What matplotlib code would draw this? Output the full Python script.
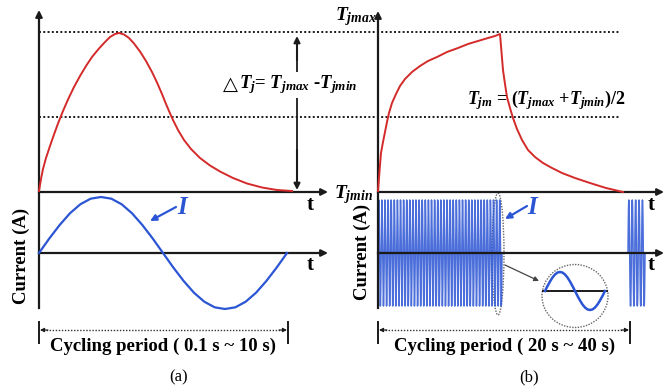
"""
Schematic of junction temperature swing vs load current:
(a) low-frequency current cycling, (b) high-frequency current bursts.
Drawn on a single pixel-scaled canvas (x: 0..671, y: 0..387 downward).
"""
import matplotlib

matplotlib.use("Agg")
import matplotlib.pyplot as plt  # noqa: E402
import numpy as np  # noqa: E402
from matplotlib.patches import Ellipse  # noqa: E402

plt.rcParams["font.family"] = ["Liberation Serif", "DejaVu Serif"]
plt.rcParams["font.weight"] = "bold"
plt.rcParams["mathtext.fontset"] = "custom"
plt.rcParams["mathtext.rm"] = "Liberation Serif:bold"
plt.rcParams["mathtext.it"] = "Liberation Serif:italic:bold"
plt.rcParams["mathtext.bf"] = "Liberation Serif:bold"

# --- data (canvas pixels) ---
# junction temperature, panel (a)
temp_a_x = [39, 41, 43, 46, 50, 54, 58, 63, 68, 74, 80, 86, 92, 99, 105, 110,
            115, 119, 124, 129, 134, 140, 146, 152, 157, 162, 166, 169, 173,
            178, 184, 191, 200, 210, 220, 233, 247, 262, 277, 292]
temp_a_y = [191, 179, 169, 158, 146, 134.5, 123.5, 111, 99.5, 87, 76, 66, 57,
            48.5, 42, 37, 34, 33, 34.5, 38, 43.5, 51.5, 61, 72, 82.5, 94, 104,
            111, 120, 130, 140, 149, 158, 165.5, 171.5, 178, 183.5, 187.5, 190, 191]
# junction temperature, panel (b)
temp_b_x = [378, 379, 380, 381, 383, 385, 387, 389, 392, 396, 400, 405, 412,
            420, 428, 437, 447, 458, 468, 478, 488, 495, 500,
            500.5, 501, 502, 503, 505, 507, 510, 513, 517, 522, 528, 535, 543,
            552, 562, 575, 590, 606, 623]
temp_b_y = [191, 178, 165, 153, 142, 132, 122, 113, 103, 94, 86, 79, 72,
            66, 61, 57, 52, 48, 44, 41, 38, 36, 34,
            40, 46, 58, 70, 84, 97, 108, 118, 129, 140, 150, 157, 163,
            168, 173, 178, 183, 188, 192]

# one current cycle, sampled every 15 degrees (normalised amplitude)
unit_cycle = [0.0, 0.26, 0.5, 0.71, 0.87, 0.97, 1.0, 0.97, 0.87, 0.71, 0.5, 0.26,
              0.0, -0.26, -0.5, -0.71, -0.87, -0.97, -1.0, -0.97, -0.87, -0.71, -0.5, -0.26, 0.0]

# current, panel (a): one slow cycle
cur_a_start, cur_a_end, cur_a_amp, cur_zero = 39, 287, 56, 253
# current, panel (b): fast bursts (start, end, number of cycles)
bursts_b = [(378, 502, 40), (628, 645, 5)]
cur_b_amp = 53
# zoomed single cycle inside the magnifier
zoom_start, zoom_end, zoom_amp, zoom_zero = 545, 605, 19, 291

t_max_y, t_mid_y, t_min_y = 32, 117, 192

AX = "#1a1a1a"
RED = "#d42a2a"
BLUE = "#2b55d4"


def cycle_xy(x0, x1, n_cycles, amp, y0):
    shape = np.asarray(unit_cycle)
    seg = np.concatenate([shape[:-1]] * n_cycles + [shape[-1:]])
    xs = np.linspace(x0, x1, len(seg))
    return xs, y0 - amp * seg


def arrow(ax, x0, y0, x1, y1, color=AX, lw=1.5, scale=10, style="-|>"):
    ax.annotate("", xy=(x1, y1), xytext=(x0, y0),
                arrowprops=dict(arrowstyle=style, color=color, lw=lw,
                                mutation_scale=scale, shrinkA=0, shrinkB=0))


def bracket(ax, x0, x1, label, xc):
    for x in (x0, x1):
        ax.plot([x, x], [322, 343], color=AX, lw=1.4)
    ax.plot([x0 + 4, x1 - 4], [330, 330], color="#333", lw=1.0, ls=(0, (1, 1.2)))
    arrow(ax, x0 + 9, 330, x0 + 1, 330, lw=0.8, scale=6)
    arrow(ax, x1 - 9, 330, x1 - 1, 330, lw=0.8, scale=6)
    ax.text(xc, 346, label, fontsize=13.5, ha="center", va="center")


fig = plt.figure(figsize=(6.71, 3.87), dpi=100)
ax = fig.add_axes([0, 0, 1, 1])
ax.set_xlim(0, 671)
ax.set_ylim(387, 0)
ax.axis("off")

# dotted reference levels
for y in (t_max_y, t_mid_y):
    ax.plot([39, 620], [y, y], color=AX, lw=1.4, ls=(0, (1, 1.2)))

# ---- panel (a) ----
ax.plot([39, 39], [308, 14], color=AX, lw=1.6)
arrow(ax, 39, 20, 39, 10)
ax.plot([39, 322], [t_min_y, t_min_y], color=AX, lw=1.6)
arrow(ax, 318, t_min_y, 328, t_min_y)
ax.plot([39, 322], [cur_zero, cur_zero], color=AX, lw=1.6)
arrow(ax, 318, cur_zero, 328, cur_zero)
ax.plot(temp_a_x, temp_a_y, color=RED, lw=1.4, solid_joinstyle="round")
xs, ys = cycle_xy(cur_a_start, cur_a_end, 1, cur_a_amp, cur_zero)
ax.plot(xs, ys, color=BLUE, lw=1.6, solid_joinstyle="round")
arrow(ax, 297, 60, 297, 36, scale=9)
arrow(ax, 297, 150, 297, 190, scale=9)
ax.plot([297, 297], [40, 186], color=AX, lw=1.3)
ax.text(230, 84, "△", fontsize=14, family="DejaVu Sans", fontweight="normal",
        ha="center", va="center")
ax.text(239, 85, r"$T_j$= $T_{jmax}$ -$T_{jmin}$", fontsize=13.5,
        ha="left", va="center",
        bbox=dict(facecolor="white", edgecolor="none", pad=1))
ax.text(310, 205, "t", fontsize=15, ha="center", va="center")
ax.text(310, 265, "t", fontsize=15, ha="center", va="center")
ax.text(21, 256, "Current (A)", fontsize=13.5, rotation=90, ha="center", va="center")
ax.text(183, 208, r"$I$", fontsize=18, color=BLUE, ha="center", va="center")
arrow(ax, 176, 207, 150, 221, color=BLUE, lw=1.6, scale=9)
bracket(ax, 39, 288, "Cycling period ( 0.1 s ~ 10 s)", 163)
ax.text(179, 377, "(a)", fontsize=12, fontweight="normal", ha="center", va="center")

# ---- panel (b) ----
for x0, x1, n in bursts_b:
    xs, ys = cycle_xy(x0, x1, n, cur_b_amp, cur_zero)
    ax.plot(xs, ys, color=BLUE, lw=1.1, alpha=0.85)
ax.plot([378, 378], [308, 16], color=AX, lw=1.6)
arrow(ax, 378, 20, 378, 11)
ax.plot([378, 657], [t_min_y, t_min_y], color=AX, lw=1.6)
arrow(ax, 652, t_min_y, 664, t_min_y)
ax.plot([378, 657], [cur_zero, cur_zero], color=AX, lw=1.6)
arrow(ax, 652, cur_zero, 664, cur_zero)
ax.plot(temp_b_x, temp_b_y, color=RED, lw=1.4, solid_joinstyle="round")
ax.text(356, 17, r"$T_{jmax}$", fontsize=14, ha="center", va="center")
ax.text(354, 195, r"$T_{jmin}$", fontsize=14, ha="center", va="center")
ax.text(546, 100, r"$T_{jm}$ = ($T_{jmax}$ +$T_{jmin}$)/2", fontsize=13,
        ha="center", va="center")
ax.text(651, 205, "t", fontsize=15, ha="center", va="center")
ax.text(651, 265, "t", fontsize=15, ha="center", va="center")
ax.text(362, 252, "Current (A)", fontsize=13.5, rotation=90, ha="center", va="center")
ax.text(533, 207, r"$I$", fontsize=18, color=BLUE, ha="center", va="center")
arrow(ax, 527, 206, 505, 219, color=BLUE, lw=1.6, scale=9)
ax.add_patch(Ellipse((498, 254), 12, 122, fill=False, ec="#666", lw=1.0, ls=(0, (1, 1))))
ax.add_patch(Ellipse((575, 296), 66, 63, fill=False, ec="#666", lw=1.0, ls=(0, (1, 1))))
arrow(ax, 505, 265, 539, 281, color="#444", lw=0.9, scale=7)
ax.plot([543, 607], [zoom_zero, zoom_zero], color=AX, lw=1.4)
xs, ys = cycle_xy(zoom_start, zoom_end, 1, zoom_amp, zoom_zero)
ax.plot(xs, ys, color=BLUE, lw=1.8, solid_joinstyle="round")
bracket(ax, 378, 630, "Cycling period ( 20 s ~ 40 s)", 505)
ax.text(529, 377, "(b)", fontsize=12, fontweight="normal", ha="center", va="center")

fig.savefig("out.png", dpi=100)
